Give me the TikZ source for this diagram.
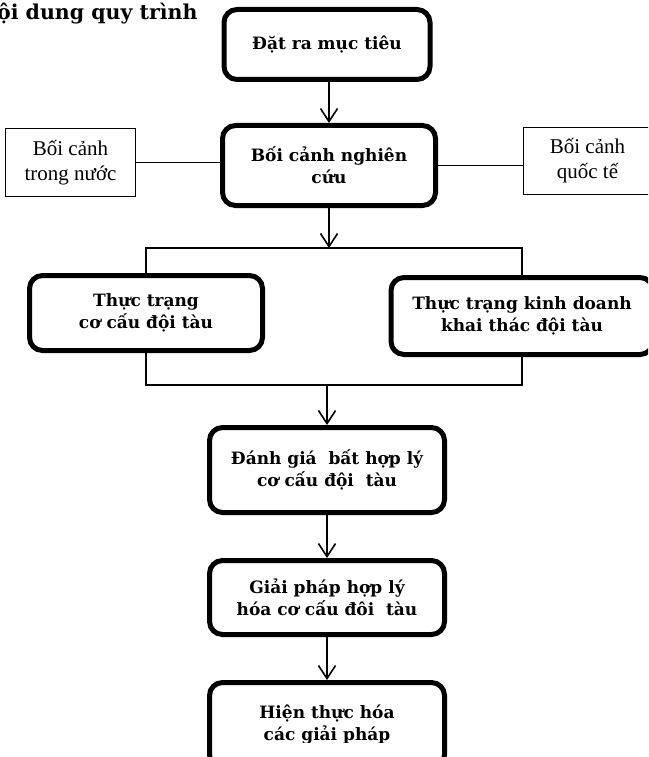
\documentclass[tikz,border=0pt]{standalone}
\usepackage{fontspec}
\setmainfont{DejaVu Serif}
\newfontfamily\sidefont{Liberation Serif}
\usetikzlibrary{arrows.meta}

\begin{document}
\begin{tikzpicture}[x=1pt, y=-1pt, >={Straight Barb[length=13pt,width=17pt]},
  stepbox/.style={draw, line width=5pt, rounded corners=13pt, align=center,
    font=\bfseries\fontsize{17}{22}\selectfont},
  sidebox/.style={draw, line width=1pt, align=center,
    font=\sidefont\fontsize{21}{25}\selectfont},
  flow/.style={line width=1.6pt},
  joint/.style={line width=1.2pt}]
\useasboundingbox (0,0) rectangle (648,757);
\clip (0,0) rectangle (648,757);
% Heading, cut at the left border
\node[anchor=base east, font=\bfseries\fontsize{20.5}{24}\selectfont] (title) at (201,20) {Nội dung quy trình};
% Main steps
\node[stepbox, minimum width=206pt, minimum height=70pt] (goal) at (327,44.5) {Đặt ra mục tiêu};
\node[stepbox, minimum width=213pt, minimum height=80pt] (context) at (329,165.5) {Bối cảnh nghiên\\cứu};
\node[sidebox, minimum width=130pt, minimum height=68pt] (domestic) at (70.5,162.5) {Bối cảnh\\trong nước};
\node[sidebox, minimum width=128pt, minimum height=67pt] (foreign) at (587.5,161) {Bối cảnh\\quốc tế};
\node[stepbox, minimum width=233pt, minimum height=75pt] (fleet) at (146,313) {Thực trạng\\cơ cấu đội tàu};
\node[stepbox, minimum width=262pt, minimum height=77pt] (business) at (522,316) {Thực trạng kinh doanh\\khai thác đội tàu};
\node[stepbox, minimum width=235pt, minimum height=85pt] (assess) at (327,470) {Đánh giá\ \ bất hợp lý\\cơ cấu đội\ \ tàu};
\node[stepbox, minimum width=235pt, minimum height=74pt] (solution) at (327,597.5) {Giải pháp hợp lý\\hóa cơ cấu đôi\ \ tàu};
\node[stepbox, minimum width=235pt, minimum height=85pt] (realize) at (327,725) {};
% text of the last box is cut off as in the original
\begin{scope}
  \clip (0,0) rectangle (648,742);
  \node[stepbox, draw=none] (realizetext) at (realize) {Hiện thực hóa\\các giải pháp};
\end{scope}
% Connectors
\coordinate (split) at (329,248);
\coordinate (merge) at (327,385);
\draw[flow, ->] (goal.south -| context) -- (context.north);
\draw[flow] (domestic.east) -- (domestic.east -| context.west);
\draw[flow] (context.east) -- (context.east -| foreign.west);
\draw[flow, ->] (context.south) -- (split);
\draw[joint] (fleet.north) -- (fleet.north |- split) -- (business.north |- split) -- (business.north);
\draw[joint] (fleet.south) -- (fleet.south |- merge) -- (business.south |- merge) -- (business.south);
\draw[flow, ->] (merge) -- (assess.north);
\draw[flow, ->] (assess) -- (solution);
\draw[flow, ->] (solution) -- (realize);
\end{tikzpicture}
\end{document}
